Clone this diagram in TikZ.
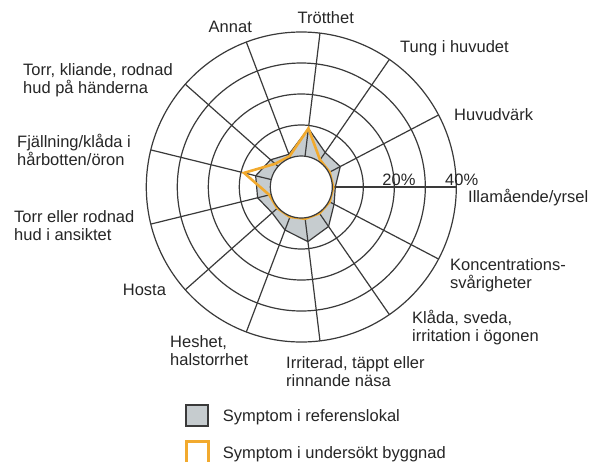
\documentclass[tikz,border=0pt]{standalone}
\usepackage{fontspec}
\setmainfont{Liberation Sans}
\definecolor{gridc}{HTML}{3A3A3A}
\definecolor{refgray}{HTML}{C6CCCF}
\definecolor{orangec}{HTML}{F2AA2E}
\begin{document}
\begin{tikzpicture}[x=1pt,y=-1pt,
  lab/.style={font=\fontsize{16.5}{18}\selectfont, inner sep=0pt, text=black!85},
  gridline/.style={draw=gridc, line width=1.2pt},
  refpoly/.style={draw=gridc, line width=1.2pt, line join=round},
  ourpoly/.style={draw=orangec, line width=2.6pt, line join=miter}]
\useasboundingbox (0,0) rectangle (594,461);
\clip (0,0) rectangle (594,461);
\fill[white] (0,0) rectangle (594,461);
\begin{scope}[shift={(301.3,187)}, yscale=-1]
  % reference polygon fill
  \fill[refgray] (0:34) -- (27.692:44) -- (55.385:42) -- (83.077:59) -- (110.769:35) -- (138.462:41) -- (166.154:47) -- (193.846:45) -- (221.538:39) -- (249.231:46) -- (276.923:55) -- (304.615:48) -- (332.308:37) -- cycle;
  % rings
  \foreach \r in {62,93,124,155} \draw[gridline] (0,0) circle (\r);
  % spokes
  \foreach \k in {0,...,12} \draw[gridline] (\k*27.6923:31) -- (\k*27.6923:155);
  % reference polygon outline
  \draw[refpoly] (0:34) -- (27.692:44) -- (55.385:42) -- (83.077:59) -- (110.769:35) -- (138.462:41) -- (166.154:47) -- (193.846:45) -- (221.538:39) -- (249.231:46) -- (276.923:55) -- (304.615:48) -- (332.308:37) -- cycle;
  % investigated building polygon
  \draw[ourpoly] (0:32) -- (27.692:32) -- (55.385:33) -- (83.077:59) -- (110.769:33) -- (138.462:35) -- (166.154:59) -- (193.846:33) -- (221.538:32) -- (249.231:32) -- (276.923:32) -- (304.615:32) -- (332.308:32) -- cycle;
  % inner circle
  \filldraw[fill=white, draw=gridc, line width=1.2pt] (0,0) circle (31);
\end{scope}
% scale labels
\node[lab, anchor=base] (p20) at (399,185) {20\%};
\node[lab, anchor=base] (p40) at (461.7,185) {40\%};
% category labels (multi-line nodes: base = last line)
\node[lab, anchor=base] (trott) at (325.8,23.3) {Trötthet};
\node[lab, anchor=base] (annat) at (230.3,32.3) {Annat};
\node[lab, anchor=base west] (tung) at (400,52.7) {Tung i huvudet};
\node[lab, anchor=base west] (huvud) at (454,120.7) {Huvudvärk};
\node[lab, anchor=base west] (illa) at (468,202.7) {Illamående/yrsel};
\node[lab, anchor=base west, align=left] (konc) at (450,288) {Koncentrations-\\svårigheter};
\node[lab, anchor=base west, align=left] (klada) at (412,341.5) {Klåda, sveda,\\irritation i ögonen};
\node[lab, anchor=base west, align=left] (irr) at (286,386) {Irriterad, täppt eller\\rinnande näsa};
\node[lab, anchor=base west, align=left] (hesh) at (170,365.7) {Heshet,\\halstorrhet};
\node[lab, anchor=base west] (hosta) at (122.7,295.7) {Hosta};
\node[lab, anchor=base west, align=left] (ansikt) at (14,240) {Torr eller rodnad\\hud i ansiktet};
\node[lab, anchor=base west, align=left] (fjall) at (17,165) {Fjällning/klåda i\\hårbotten/öron};
\node[lab, anchor=base west, align=left] (hand) at (23,93) {Torr, kliande, rodnad\\hud på händerna};
% legend
\filldraw[fill=refgray, draw=gridc, line width=1.5pt] (186,405) rectangle (208,426);
\draw[orangec, line width=3pt] (186.5,441.5) rectangle (208.5,468);
\node[lab, anchor=base west] (leg1) at (222.7,421.7) {Symptom i referenslokal};
\node[lab, anchor=base west] (leg2) at (222.7,458.3) {Symptom i undersökt byggnad};
\end{tikzpicture}
\end{document}
